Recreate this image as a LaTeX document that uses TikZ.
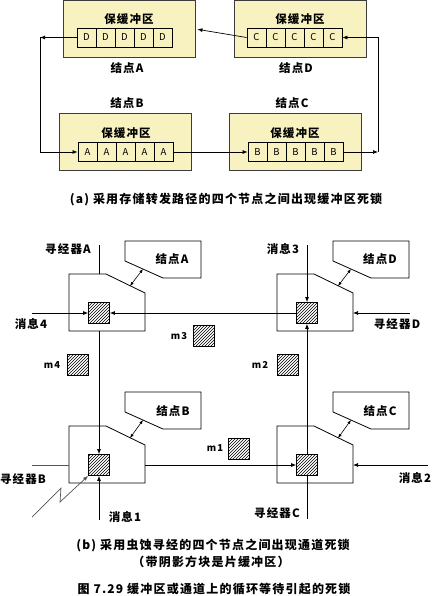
\documentclass[tikz,border=0pt]{standalone}
\usepackage{fontspec}
\setmainfont{Noto Sans CJK SC}[LetterSpace=10]
\usepackage{tikz}
\usetikzlibrary{arrows.meta,positioning,patterns,calc}
\definecolor{bufyellow}{HTML}{F8F2C0}
\definecolor{edgegray}{HTML}{3C3C3C}
\definecolor{linegray}{HTML}{555555}

\begin{document}
\begin{tikzpicture}[x=1pt,y=-1pt,
  box/.style={draw=edgegray, fill=bufyellow, line width=1pt, minimum width=132pt, minimum height=57pt},
  cell/.style={draw=black, line width=0.8pt, minimum width=19pt, minimum height=19pt,
               inner sep=0pt, font=\fontsize{9.5}{10}\selectfont},
  lbl/.style={font=\fontsize{11.5}{12}\selectfont\bfseries, inner sep=0pt},
  captxt/.style={font=\fontsize{12}{13}\selectfont\bfseries, inner sep=0pt},
  mlbl/.style={font=\fontsize{9.5}{10}\selectfont\bfseries, inner sep=0pt},
  arr/.style={-{Latex[length=5pt,width=4pt]}, line width=0.7pt},
  dbl/.style={{Latex[length=4pt,width=3pt]}-{Latex[length=4pt,width=3pt]}, line width=0.6pt},
  rtr/.style={draw, line width=0.8pt},
  hl/.style={draw=linegray, line width=0.8pt},
  pkt/.style={draw, line width=0.8pt, pattern=north east lines, minimum size=21pt, inner sep=0pt}
]
  \useasboundingbox (0,0) rectangle (433,596);

  % (a) store-and-forward buffers
  \node[box] (boxA) at (129,29)    {};
  \node[box] (boxD) at (300,29)    {};
  \node[box] (boxB) at (125.5,142) {};
  \node[box] (boxC) at (295,142)   {};
  \node[lbl] (tA) at (129,19)  {保缓冲区};
  \node[lbl] (tD) at (300,19)  {保缓冲区};
  \node[lbl] (tB) at (126,133) {保缓冲区};
  \node[lbl] (tC) at (295,133) {保缓冲区};
  \foreach \i in {1,...,5}{
    \node[cell] (qa\i) at (67.5+19*\i,37.5) {D};
    \node[cell] (qd\i) at (237.5+19*\i,37.5) {C};
    \node[cell] (qb\i) at (68.5+19*\i,152) {A};
    \node[cell] (qc\i) at (238.5+19*\i,152) {B};
  }
  \node[lbl] (jA) at (127,68)  {结点A};
  \node[lbl] (jD) at (296,68)  {结点D};
  \node[lbl] (jB) at (127,103) {结点B};
  \node[lbl] (jC) at (292,103) {结点C};

  \coordinate (cA) at (40,37.5);
  \coordinate (cC) at (378,152);
  \draw[arr] (qa1.west) -- (cA);
  \draw[arr] (cA) |- (qb1.west);
  \draw[arr] (qb5.east) -- (qc1.west);
  \draw[arr] (qc5.east) -- (cC);
  \draw[arr] (cC) |- (qd5.east);
  \draw[arr,shorten >=2pt] (qd1.west) -- (boxA.east);

  \node[captxt] (capa) at (226,200) {(a) 采用存储转发路径的四个节点之间出现缓冲区死锁};

  % (b) wormhole routers
  \coordinate (rA) at (69,274);
  \coordinate (rD) at (277,274);
  \coordinate (rB) at (69,426);
  \coordinate (rC) at (277,426);
  \coordinate (nA) at (125,241);
  \coordinate (nD) at (333,241);
  \coordinate (nB) at (125,392);
  \coordinate (nC) at (333,392);
  \draw[rtr] (rA) -- ++(37,0) -- ++(39,19) -- ++(0,38) -- ++(-76,0) -- cycle;
  \draw[rtr] (rD) -- ++(37,0) -- ++(39,19) -- ++(0,38) -- ++(-76,0) -- cycle;
  \draw[rtr] (rB) -- ++(37,0) -- ++(39,19) -- ++(0,38) -- ++(-76,0) -- cycle;
  \draw[rtr] (rC) -- ++(37,0) -- ++(39,19) -- ++(0,38) -- ++(-76,0) -- cycle;
  \draw[rtr] (nA) -- ++(76,0) -- ++(0,37) -- ++(-38,0) -- ++(-38,-17) -- cycle;
  \draw[rtr] (nD) -- ++(76,0) -- ++(0,37) -- ++(-38,0) -- ++(-38,-17) -- cycle;
  \draw[rtr] (nB) -- ++(76,0) -- ++(0,37) -- ++(-38,0) -- ++(-38,-17) -- cycle;
  \draw[rtr] (nC) -- ++(76,0) -- ++(0,37) -- ++(-38,0) -- ++(-38,-17) -- cycle;
  \draw[dbl] ($(rA)+(61,12)$) -- ($(nA)+(18,28)$);
  \draw[dbl] ($(rD)+(61,12)$) -- ($(nD)+(18,28)$);
  \draw[dbl] ($(rB)+(61,12)$) -- ($(nB)+(18,28)$);
  \draw[dbl] ($(rC)+(61,12)$) -- ($(nC)+(18,28)$);

  \node[pkt] (sA) at ($(rA)+(30,39)$) {};
  \node[pkt] (sD) at ($(rD)+(30,39)$) {};
  \node[pkt] (sB) at ($(rB)+(30,39)$) {};
  \node[pkt] (sC) at ($(rC)+(30,39)$) {};
  \node[pkt] (m1) at (238.5,448.5) {};
  \node[pkt] (m2) at (287.5,364.5) {};
  \node[pkt] (m3) at (204,336)     {};
  \node[pkt] (m4) at (78,364.5)    {};
  \node[mlbl] (lm1) at (215,448) {m1};
  \node[mlbl] (lm2) at (260,365) {m2};
  \node[mlbl] (lm3) at (179,336) {m3};
  \node[mlbl] (lm4) at (52,365)  {m4};

  \coordinate (topA) at (99,245);
  \coordinate (topD) at (307,245);
  \coordinate (inA)  at (32,313);
  \coordinate (inD)  at (410,313);
  \coordinate (inB)  at (99,520);
  \coordinate (botC) at (307,519);
  \coordinate (inC)  at (428,465);
  \coordinate (wB)   at (32,465);
  \coordinate (zz1)  at (61,488);
  \coordinate (zz2)  at (60,502);
  \coordinate (zz0)  at (32,517);
  \coordinate (rDr)  at ($(rD)+(76,0)$);
  \coordinate (rCr)  at ($(rC)+(76,0)$);
  \coordinate (rBr)  at ($(rB)+(76,0)$);

  \draw (topA) -- (topA |- rA);
  \draw[arr] ($(rA)+(30,57)$) -- (sB.north);
  \draw[arr] (inA) -- (sA.west);
  \draw[arr] (sD.west) -- (sA.east);
  \draw[arr] (topD) -- (sD.north);
  \draw[arr] (inD) -- (inD -| rDr);
  \draw[arr] (sC.north) -- (sD.south);
  \draw[arr] (inB) -- (sB.south);
  \draw[hl] (wB) -- (wB -| rB);
  \draw[hl,arr] (zz0) -- (zz1) -- (zz2) -- (sB.south west);
  \draw[arr] (sB -| rBr) -- (sC.west);
  \draw[arr] (inC) -- (inC -| rCr);
  \draw (sC.south) -- (botC);

  \node[lbl] (lrA) at (68,249)  {寻经器A};
  \node[lbl] (lm3t) at (283,249) {消息3};
  \node[lbl] (lm4t) at (31,324)  {消息4};
  \node[lbl] (lrD) at (397,324) {寻经器D};
  \node[lbl] (lrB) at (23,479)  {寻经器B};
  \node[lbl] (lm1t) at (125,517) {消息1};
  \node[lbl] (lrC) at (277,513) {寻经器C};
  \node[lbl] (lm2t) at (415,478) {消息2};
  \node[lbl] (kA) at (172,259) {结点A};
  \node[lbl] (kD) at (380,259) {结点D};
  \node[lbl] (kB) at (173,411) {结点B};
  \node[lbl] (kC) at (380,411) {结点C};

  \node[captxt] (capb) at (213,545) {(b) 采用虫蚀寻经的四个节点之间出现通道死锁};
  \node[captxt] (capc) at (211,562) {（带阴影方块是片缓冲区）};
  \node[captxt] (capt) at (214,589) {图 7.29 缓冲区或通道上的循环等待引起的死锁};
\end{tikzpicture}
\end{document}
